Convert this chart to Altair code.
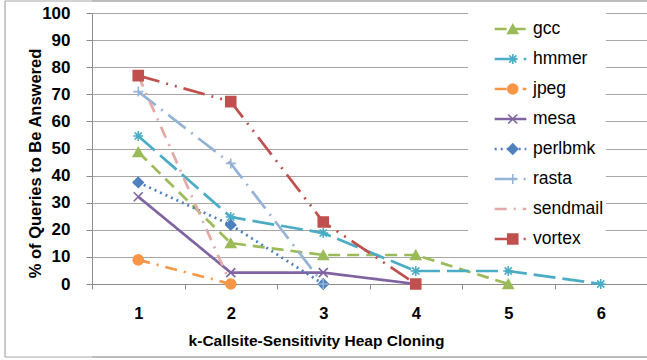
import altair as alt
import pandas as pd

# ---- data ----
series = ["gcc", "hmmer", "jpeg", "mesa", "perlbmk", "rasta", "sendmail", "vortex"]
k_levels = [1, 2, 3, 4, 5, 6]
gcc = [48.7, 15.1, 10.7, 10.7, 0.0]
hmmer = [54.6, 24.7, 18.8, 4.8, 4.8, 0.0]
jpeg = [8.9, 0.0]
mesa = [32.2, 4.2, 4.2, 0.0]
perlbmk = [37.5, 21.8, 0.0]
rasta = [71.0, 44.5, 0.0]
sendmail = [76.9, 0.0]
vortex = [76.9, 67.3, 22.9, 0.0]

values = {"gcc": gcc, "hmmer": hmmer, "jpeg": jpeg, "mesa": mesa,
          "perlbmk": perlbmk, "rasta": rasta, "sendmail": sendmail, "vortex": vortex}

colors = ["#9BBB59", "#4BACC6", "#F79646", "#8064A2", "#4F81BD", "#95B3D7", "#E3A9A7", "#C0504D"]
dashes = [[12, 7], [22, 7], [12, 7, 2, 7], [1, 0], [2, 4], [22, 7, 2, 7], [12, 7, 2, 7], [22, 7, 2, 7, 2, 7]]
ASTERISK = "M-1,0L1,0M0,-1L0,1M-0.72,-0.72L0.72,0.72M-0.72,0.72L0.72,-0.72"
XMARK = "M-0.9,-0.9L0.9,0.9M-0.9,0.9L0.9,-0.9"
PLUS = "M-1,0L1,0M0,-1L0,1"
shapes = ["triangle-up", ASTERISK, "circle", XMARK, "diamond", PLUS, "M0,0", "square"]

rows = []
for s in series:
    for i, v in enumerate(values[s]):
        rows.append({"k": k_levels[i], "series": s, "series2": s, "pct": v})
df = pd.DataFrame(rows)

FONT = "Liberation Sans"

x_enc = alt.X("k:O", scale=alt.Scale(domain=k_levels, paddingInner=0, paddingOuter=0),
              axis=alt.Axis(title="k-Callsite-Sensitivity Heap Cloning", labelAngle=0,
                            tickBand="extent", tickSize=5, labelPadding=16,
                            labelFontSize=16.5, labelFontWeight="bold", labelColor="#000000",
                            titleFontSize=15.5, titleFontWeight="bold", titleColor="#000000",
                            titleX=224, titleY=56, titleBaseline="middle",
                            domainColor="#8C8C8C", tickColor="#8C8C8C", grid=False))
y_enc = alt.Y("pct:Q", scale=alt.Scale(domain=[0, 100], nice=False),
              axis=alt.Axis(title="% of Queries to Be Answered", values=list(range(0, 101, 10)),
                            tickSize=6, labelPadding=16, labelFontSize=17, labelFontWeight="bold",
                            labelColor="#000000", titleFontSize=16.5, titleFontWeight="bold",
                            titleColor="#000000", titleX=-57, titleY=150, titleBaseline="middle",
                            titleAlign="center", gridColor="#A6A6A6", gridWidth=1,
                            domainColor="#8C8C8C", tickColor="#8C8C8C"))

# trailing no-break spaces widen the white legend box to the reference's right edge
line_legend = alt.Legend(title=None, orient="none", legendX=376, legendY=-1,
                         symbolType="stroke", symbolSize=1000, symbolStrokeWidth=2.7,
                         symbolOffset=23, labelOffset=5, clipHeight=30, rowPadding=0,
                         padding=2, fillColor="#FFFFFF", labelFontSize=17.5,
                         labelFont=FONT, labelColor="#000000", zindex=1,
                         labelExpr="datum.label + '\u00a0\u00a0\u00a0\u00a0\u00a0'")
pt_legend = alt.Legend(title=None, orient="none", legendX=410, legendY=-1,
                       symbolSize=100, symbolStrokeWidth=1.6, clipHeight=30, rowPadding=0,
                       padding=2, labelExpr="''", labelFontSize=17.5, zindex=2)

lines = alt.Chart(df).mark_line(strokeWidth=2.7).encode(
    x=x_enc, y=y_enc,
    color=alt.Color("series:N", scale=alt.Scale(domain=series, range=colors), legend=line_legend),
    strokeDash=alt.StrokeDash("series:N", scale=alt.Scale(domain=series, range=dashes), legend=line_legend),
    order="k:O",
)

# point scales use the data-driven (alphabetical) domain so their legend stays separate
points = alt.Chart(df).mark_point(filled=True, size=100, strokeWidth=1.6, opacity=1).encode(
    x=x_enc, y=y_enc,
    fill=alt.Fill("series2:N", scale=alt.Scale(range=colors), legend=pt_legend),
    stroke=alt.Stroke("series2:N", scale=alt.Scale(range=colors), legend=pt_legend),
    shape=alt.Shape("series2:N", scale=alt.Scale(range=shapes), legend=pt_legend),
)

# outer chart frame (left, top, bottom edges)
frame_src = alt.Data(values=[{"f": 1}])
frame_style = dict(stroke="#A6A6A6", strokeWidth=1.2)
frame_parts = [
    alt.Chart(frame_src).mark_rule(**frame_style).encode(y=alt.value(-12)),
    alt.Chart(frame_src).mark_rule(**frame_style).encode(y=alt.value(344)),
    alt.Chart(frame_src).mark_rule(**frame_style).encode(x=alt.value(-87), x2=alt.value(560), y=alt.value(-12)),
    alt.Chart(frame_src).mark_rule(**frame_style).encode(x=alt.value(-87), x2=alt.value(560), y=alt.value(344)),
    alt.Chart(frame_src).mark_rule(**frame_style).encode(x=alt.value(-87), y=alt.value(-12), y2=alt.value(344)),
]

chart = alt.layer(*frame_parts, lines, points).properties(
    width=555, height=271,
    autosize=alt.AutoSizeParams(type="none"),
    padding={"left": 92, "top": 13, "right": 0, "bottom": 76},
).configure(
    font=FONT
).configure_view(stroke=None)

chart.save("out.html", embed_options={"renderer": "svg", "actions": False})
